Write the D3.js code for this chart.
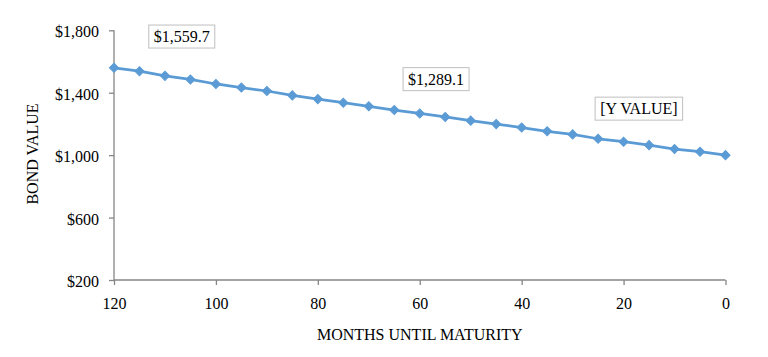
<!DOCTYPE html>
<html>
<head>
<meta charset="utf-8">
<script src="https://cdn.jsdelivr.net/npm/d3@7"></script>
<style>
  html, body { margin: 0; padding: 0; background: #fff; }
  svg { display: block; }
  text { font-family: "Liberation Serif", "Times New Roman", serif; fill: #000; }
</style>
</head>
<body>
<svg id="chart" width="768" height="357"></svg>
<script>
// ---- data ----
const months = [120, 115, 110, 105, 100, 95, 90, 85, 80, 75, 70, 65, 60, 55, 50, 45, 40, 35, 30, 25, 20, 15, 10, 5, 0];
const bondValues = [1559.7, 1538, 1508, 1485, 1456, 1433, 1411, 1383, 1359, 1336, 1313, 1289.1, 1267, 1245, 1221, 1199, 1177, 1153, 1133, 1105, 1086, 1064, 1039, 1022, 1000];
const xTicks = [120, 100, 80, 60, 40, 20, 0];
const yTicks = [200, 600, 1000, 1400, 1800];
const labelTexts = ["$1,559.7", "$1,289.1", "[Y VALUE]"];
const labelMonths = [106.7, 56.8, 17.0];
const labelValues = [1760, 1487, 1298];
const xTitle = "MONTHS UNTIL MATURITY";
const yTitle = "BOND VALUE";

(function () {
// ---- layout ----
const svg = d3.select("#chart");
const pLeft = 114, pRight = 725.5, pTop = 30.3, pBottom = 280;
const x = d3.scaleLinear().domain([120, 0]).range([pLeft, pRight]);
const y = d3.scaleLinear().domain([200, 1800]).range([pBottom, pTop]);
const axisColor = "#868686";

svg.append("rect").attr("width", 768).attr("height", 357).attr("fill", "#fff");

// y axis
const yAxis = svg.append("g").attr("transform", `translate(${pLeft},0)`)
  .call(d3.axisLeft(y).tickValues(yTicks).tickFormat(d3.format("$,")).tickSize(5).tickPadding(10));
// x axis
const xAxis = svg.append("g").attr("transform", `translate(0,${pBottom})`)
  .call(d3.axisBottom(x).tickValues(xTicks).tickFormat(d3.format("d")).tickSize(5).tickPadding(12.6));

[yAxis, xAxis].forEach(g => {
  g.select(".domain").attr("stroke", axisColor).attr("stroke-width", 1.3);
  g.selectAll(".tick line").attr("stroke", axisColor).attr("stroke-width", 1.3);
  g.selectAll(".tick text").attr("font-size", 16).attr("font-family", "Liberation Serif").attr("fill", "#000");
});
yAxis.select(".domain").attr("d", `M0,${pTop}V${pBottom}`);
xAxis.select(".domain").attr("d", `M${pLeft},0H${pRight}`);
yAxis.selectAll(".tick text").attr("dy", "0.41em");

// axis titles
svg.append("text")
  .attr("transform", `translate(38,154) rotate(-90)`)
  .attr("text-anchor", "middle").attr("font-size", 16).text(yTitle);
svg.append("text")
  .attr("x", (pLeft + pRight) / 2).attr("y", 340)
  .attr("text-anchor", "middle").attr("font-size", 16).text(xTitle);

// line
const data = months.map((m, i) => ({ m, v: bondValues[i] }));
svg.append("path").datum(data)
  .attr("fill", "none").attr("stroke", "#5B9BD5").attr("stroke-width", 2.75)
  .attr("stroke-linejoin", "round")
  .attr("d", d3.line().x(d => x(d.m)).y(d => y(d.v)));

// diamond markers
const diamond = d3.symbol().type(d3.symbolSquare).size(42);
svg.append("g").selectAll("path").data(data).join("path")
  .attr("d", diamond)
  .attr("transform", d => `translate(${x(d.m)},${y(d.v)}) rotate(45)`)
  .attr("fill", "#5B9BD5").attr("stroke", "#5B9BD5").attr("stroke-width", 1);

// data label boxes
labelTexts.forEach((t, i) => {
  const cx = x(labelMonths[i]), cy = y(labelValues[i]);
  const g = svg.append("g");
  const rect = g.append("rect");
  const txt = g.append("text").attr("x", cx).attr("y", cy).attr("dy", "0.35em")
    .attr("text-anchor", "middle").attr("font-size", 16).text(t);
  const w = txt.node().getComputedTextLength() + 10;
  const h = 23;
  rect.attr("x", cx - w / 2).attr("y", cy - h / 2).attr("width", w).attr("height", h)
    .attr("fill", "#fff").attr("stroke", "#BFBFBF").attr("stroke-width", 1);
});
})();
</script>
</body>
</html>
